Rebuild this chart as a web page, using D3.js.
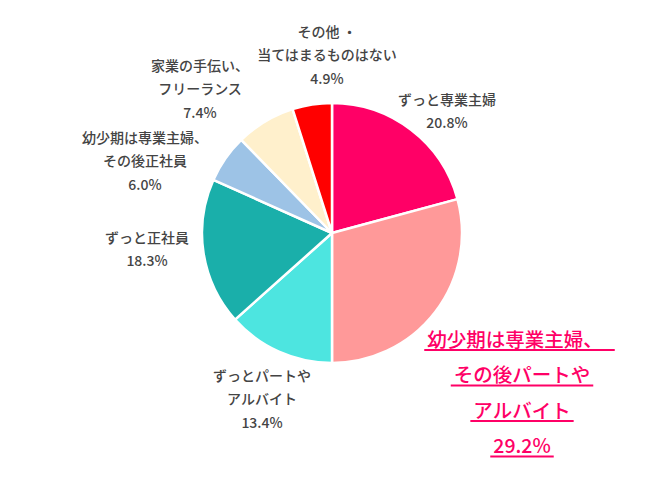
<!DOCTYPE html>
<html>
<head>
<meta charset="utf-8">
<script src="https://cdn.jsdelivr.net/npm/d3@7"></script>
<style>
  html, body { margin: 0; padding: 0; background: #fff; }
  svg text { font-family: "Noto Sans CJK JP", "Noto Sans", sans-serif; }
</style>
</head>
<body>
<div id="chart"></div>
<script>
// slices, clockwise from 12 o'clock
const categories = [
  'ずっと専業主婦',
  '幼少期は専業主婦、その後パートやアルバイト',
  'ずっとパートやアルバイト',
  'ずっと正社員',
  '幼少期は専業主婦、その後正社員',
  '家業の手伝い、フリーランス',
  'その他・当てはまるものはない'
];
const values = [20.8, 29.2, 13.4, 18.3, 6.0, 7.4, 4.9];
const colors = ['#ff0066', '#ff9999', '#4de5e0', '#1aafaa', '#9dc3e6', '#fff0cc', '#ff0000'];

// label lines as they are broken in the picture
const labelLines = [
  ['ずっと専業主婦'],
  ['幼少期は専業主婦、', 'その後パートや', 'アルバイト'],
  ['ずっとパートや', 'アルバイト'],
  ['ずっと正社員'],
  ['幼少期は専業主婦、', 'その後正社員'],
  ['家業の手伝い、', 'フリーランス'],
  ['その他 ・', '当てはまるものはない']
];
const highlight = 1;

const width = 650, height = 477;
const cx = 332, cy = 233, radius = 130;

const svg = d3.select('#chart')
  .append('svg')
  .attr('width', width)
  .attr('height', height);

const pie = d3.pie()
  .sort(null)
  .value(d => d);

const arc = d3.arc()
  .innerRadius(0)
  .outerRadius(radius);

const arcs = pie(values);

svg.append('g')
  .attr('transform', `translate(${cx},${cy})`)
  .selectAll('path')
  .data(arcs)
  .join('path')
  .attr('d', arc)
  .attr('fill', (d, i) => colors[i])
  .attr('stroke', '#fff')
  .attr('stroke-width', 2.5)
  .attr('stroke-linejoin', 'round');

// label anchors: [center x, first line y] relative to pie centre, per slice
const labelPos = [
  [115, -134],
  [190, 105],
  [-70, 142],
  [-185, 4],
  [-187, -96],
  [-132, -168],
  [-5, -202]
];

const labels = svg.append('g')
  .attr('transform', `translate(${cx},${cy})`);

arcs.forEach((d, i) => {
  const lines = labelLines[i].concat([d3.format('.1f')(values[i]) + '%']);
  const [lx, ly] = labelPos[i];
  const big = i === highlight;
  const step = big ? 35.5 : 23.3;
  lines.forEach((t, j) => {
    const txt = labels.append('text')
      .attr('x', lx)
      .attr('y', ly + j * step)
      .attr('text-anchor', 'middle')
      .attr('dominant-baseline', 'central')
      .style('font-size', big ? '19.5px' : '14px')
      .style('font-weight', 500)
      .style('fill', big ? '#ff0066' : '#444')
      .text(t);
    if (big) {
      const w = txt.node().getComputedTextLength();
      const pad = j === 0 ? 12 : 3;
      const shift = j === 0 ? -7 : 0;
      txt.attr('x', lx + shift);
      labels.append('line')
        .attr('x1', lx + shift - w / 2 - 3)
        .attr('x2', lx + shift + w / 2 + pad)
        .attr('y1', ly + j * step + 12)
        .attr('y2', ly + j * step + 12)
        .attr('stroke', '#ff0066')
        .attr('stroke-width', 1.8);
    }
  });
});
</script>
</body>
</html>
